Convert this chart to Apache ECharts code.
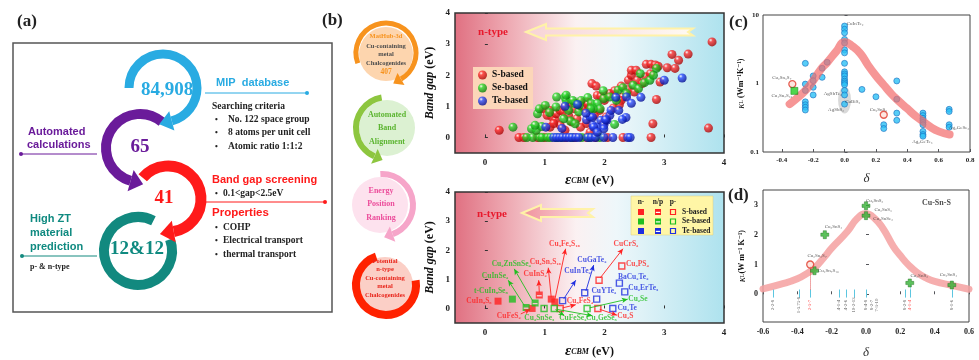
<!DOCTYPE html>
<html><head><meta charset="utf-8">
<script src="https://cdn.jsdelivr.net/npm/echarts@6/dist/echarts.min.js"></script>
<style>html,body{margin:0;padding:0;background:#fff}#c{width:979px;height:360px}</style>
</head><body><div id="c"></div>
<script>
const SERIF = '"Liberation Serif","DejaVu Serif",serif';
const SANS = '"Liberation Sans","DejaVu Sans",sans-serif';

// ---------- (b) top: band gap vs eps_CBM ----------
const topS = [[0.57,0],[0.65,0],[0.88,0],[1.0,0],[1.35,0],[1.5,0],[1.7,0],[1.85,0],[2.05,0],[2.31,0],[2.78,0],
 [0.24,0.23],[0.98,0.92],[1.04,0.71],[1.09,0.87],[1.12,0.66],[1.18,0.55],[1.19,0.76],[1.26,0.87],[1.32,0.82],[1.34,0.98],
 [1.40,0.71],[1.44,1.09],[1.50,0.92],[1.54,0.60],[1.60,1.14],[1.62,1.0],[1.66,0.92],[1.71,1.14],[1.79,1.73],[1.86,1.65],
 [1.88,1.35],[1.94,1.32],[2.04,1.35],[1.09,0.33],[1.26,0.39],[1.34,0.23],[1.60,0.33],[1.76,0.17],[1.99,0.49],
 [2.09,1.41],[2.17,1.5],[2.28,1.65],[2.4,1.84],[2.45,2.0],[2.55,1.84],[2.63,1.73],[2.69,1.95],[2.77,2.05],[2.40,1.54],
 [2.31,1.3],[2.5,1.46],[2.0,1.19],[1.92,0.87],[1.72,1.06],[2.03,0.66],[1.83,0.71],[2.28,1.19],
 [2.45,2.16],[2.53,2.16],[2.7,2.35],[2.78,2.35],[2.85,2.33],[2.9,2.29],[3.05,2.24],[3.18,2.22],[3.13,2.67],[3.24,2.48],
 [3.4,2.68],[3.8,3.07],[2.93,1.78],[2.87,1.22],[2.81,0.44],[3.74,0.3],[1.15,0.45],[1.45,0.5],[1.7,0.45],[2.15,0.95],[2.25,1.05]];
const topSe = [[0.7,0],[0.8,0],[0.92,0],[0.96,0],[1.05,0],[1.1,0],[1.2,0],[1.28,0],[1.45,0],[1.62,0],[1.75,0],[1.92,0],
 [0.47,0.33],[0.78,0.28],[0.86,0.23],[0.95,0.35],[0.88,0.76],[0.91,0.92],[1.01,1.03],[1.08,0.80],[1.19,0.98],[1.20,1.30],
 [1.34,1.30],[1.36,1.19],[1.40,0.87],[1.50,1.09],[1.57,0.82],[1.61,1.19],[1.72,1.28],[1.78,1.09],[1.88,1.09],[1.99,1.25],
 [1.82,0.92],[1.93,0.92],[1.43,0.53],[1.51,0.44],[1.32,0.60],[0.84,0.39],
 [2.23,1.52],[2.31,1.6],[2.48,1.68],[2.57,1.57],[2.67,1.76],[2.76,1.84],[2.82,2.0],[2.09,1.3],[1.98,1.5],[2.2,1.19],
 [2.37,1.41],[1.58,1.03],[1.77,0.92],[2.17,0.42],[1.47,1.19],[1.36,1.36],[2.87,2.22],[2.6,2.05]];
const topTe = [[1.15,0],[1.2,0],[1.25,0],[1.3,0],[1.36,0],[1.41,0],[1.46,0],[1.52,0],[1.57,0],[1.72,0],[1.78,0],[1.85,0],
 [1.99,0],[2.14,0],[2.39,0],[2.43,0],
 [1.02,0.33],[1.34,1.0],[1.55,1.06],[1.70,0.57],[1.76,0.66],[1.81,0.39],[1.88,0.33],[1.94,0.55],[1.99,0.39],[2.04,0.55],
 [2.09,0.71],[2.19,1.29],[2.37,1.30],[2.45,1.10],[2.61,1.29],[2.11,0.87],[2.24,0.87],[2.36,0.64],[2.30,0.58],[1.8,0.65],
 [2.02,0.57],[1.82,0.33],[1.99,0.28],[1.88,0.17],[1.69,0.78],[1.29,0.29],[3.0,1.84],[3.3,1.91]];

// ---------- (b) bottom: selected compounds ----------
const botS_n = [[0.22,0.25],[0.79,0.0],[1.11,0.32],[1.17,0.22]];
const botS_np = [[0.91,0.46]];
const botS_p = [[1.26,0],[1.89,0],[1.91,0.97],[2.29,1.46]];
const botSe_n = [[0.46,0.32]];
const botSe_np = [[0.69,0.03],[0.84,0.19]];
const botSe_p = [[0.99,0],[1.16,0],[1.71,0]];
const botTe_p = [[1.30,0.27],[1.67,0.54],[1.87,0.32],[2.25,0.87],[2.34,0.57],[2.14,0]];
const botNamesS = [[-0.10,0.26,'CuIn₅S₈'],[0.40,-0.26,'CuFeS₂'],[0.84,1.17,'CuInS₂'],[1.01,1.59,'Cu₄Sn₇S₁₆'],[1.33,2.21,'Cu₉Fe₉S₁₆'],
 [1.59,0.26,'Cu₅FeS₄'],[2.36,2.21,'CuCrS₂'],[2.55,1.53,'Cu₃PS₄'],[2.35,-0.26,'Cu₂S']];
const botNamesSe = [[0.10,0.58,'t-CuIn₅Se₈'],[0.17,1.10,'CuInSe₂'],[0.44,1.53,'Cu₂ZnSnSe₄'],[0.91,-0.32,'Cu₂SnSe₃'],
 [1.47,-0.32,'CuFeSe₂'],[1.95,-0.32,'Cu₂GeSe₃'],[2.56,0.32,'Cu₂Se']];
const botNamesTe = [[1.55,1.27,'CuInTe₂'],[1.79,1.66,'CuGaTe₂'],[1.99,0.58,'CuYTe₂'],[2.48,1.07,'BaCu₂Te₂'],[2.65,0.71,'Cu₂ErTe₃'],[2.38,0.03,'Cu₂Te']];
const botArrowsS = [[[0.6,-0.19],[0.76,-0.03]],[[0.91,0.55],[0.90,0.97]],[[1.11,0.38],[1.06,1.40]],[[1.17,0.3],[1.35,2.05]],
 [[1.30,0.02],[1.52,0.13]],[[1.93,1.05],[2.31,2.05]],[[1.92,-0.03],[2.21,-0.23]]];
const botArrowsSe = [[[0.66,0.1],[0.39,0.97]],[[0.80,0.26],[0.49,1.36]],[[1.18,-0.04],[1.33,-0.25]],[[1.2,-0.03],[1.8,-0.25]],[[1.75,0.02],[2.39,0.32]]];
const botArrowsTe = [[[1.32,0.33],[1.52,0.97]],[[1.69,0.6],[1.82,1.49]]];

// ---------- (c) kappa_L vs delta ----------
const cBlue = [[0,6.9],[0,6.2],[0,5.5],[0,4.4],[0,3.9],[0,3.1],[0,2.8],[0,1.97],[0,1.48],[0,1.38],[0,1.29],[0,1.16],[0,1.08],
 [0,1.02],[0,0.96],[0,0.79],[0,0.68],[0,0.50],
 [-0.25,1.97],[-0.25,0.98],[-0.25,0.79],[-0.25,0.54],[-0.25,0.49],[-0.25,0.45],[-0.25,0.41],
 [-0.2,1.29],[-0.2,1.10],[-0.2,0.88],[-0.2,0.68],[-0.143,1.67],[-0.143,1.23],[-0.111,2.04],
 [0.111,0.82],[0.2,0.64],[0.25,0.25],[0.25,0.22],[0.333,1.09],[0.333,0.59],[0.333,0.37],[0.333,0.29],
 [0.5,0.37],[0.5,0.34],[0.5,0.31],[0.5,0.29],[0.5,0.27],[0.5,0.25],[0.5,0.20],[0.5,0.18],[0.5,0.17],
 [0.667,0.42],[0.667,0.39],[0.667,0.25],[0.667,0.23]];
const cRed = [[-0.333,0.98],[0.25,0.35]];
const cGreen = [[-0.32,0.78]];
const cCurve = [[-0.35,0.5],[-0.3,0.62],[-0.25,0.79],[-0.2,1.1],[-0.15,1.62],[-0.11,2.04],[-0.05,3.0],[0,4.05],[0.05,3.5],
 [0.1,2.75],[0.15,1.85],[0.2,1.3],[0.25,0.95],[0.3,0.7],[0.333,0.59],[0.4,0.43],[0.45,0.34],[0.5,0.28],[0.55,0.23],[0.6,0.2],[0.67,0.18]];
const cNames = [[0.067,7.4,'CuInTe₂'],[-0.40,1.23,'Cu₂Sn₃S₇'],[-0.40,0.66,'Cu₄Sn₇S₁₆'],[-0.075,0.72,'AgSbTe₂'],[0.052,0.54,'CuBiS₂'],
 [-0.054,0.42,'AgSbS₂'],[0.216,0.41,'Cu₂SnS₃'],[0.496,0.14,'Ag₂GeTe₃'],[0.73,0.23,'Ag₂GeSe₃']];
const cShade = [[0,0.575]];

// ---------- (d) Cu-Sn-S ----------
const dGreen = [[0,2.97],[0,2.64],[-0.24,2.0],[-0.30,0.79],[0.255,0.38],[0.5,0.31]];
const dRed = [[-0.325,1.0]];
const dCurve = [[-0.6,0.18],[-0.5,0.33],[-0.4,0.52],[-0.33,0.75],[-0.3,0.88],[-0.24,1.27],[-0.2,1.55],[-0.11,2.1],[-0.05,2.55],
 [0,2.7],[0.05,2.55],[0.1,2.2],[0.16,1.6],[0.2,1.3],[0.25,0.97],[0.3,0.72],[0.35,0.55],[0.4,0.43],[0.5,0.3],[0.6,0.17]];
const dNames = [[0.05,3.14,'Cu₂SnS₃'],[0.10,2.84,'Cu₂SnS₃'],[0.10,2.53,'Cu₂SnSe₃'],[-0.19,2.28,'Cu₃SnS₄'],
 [-0.285,1.29,'Cu₂Sn₃S₇'],[-0.22,0.79,'Cu₄Sn₇S₁₆'],[0.31,0.63,'Cu₂SnS₃'],[0.48,0.65,'Cu₄SnS₄']];
const dTickPos = [-0.543,-0.39,-0.325,-0.157,-0.116,-0.07,0,0.226,0.255,0.5];
const dTickNames = [[-0.543,'2-2-8'],[-0.39,'1-3.75-8'],[-0.325,'2-3-7'],[-0.157,'4-1-4'],[-0.116,'4-2-6'],[-0.07,'10-2-13'],
 [0,'8-4-8'],[0.033,'8-2-7'],[0.062,'7-3-10'],[0.226,'8-2-8'],[0.255,'4-1-4'],[0.5,'8-1-6']];
const dTickRedPos = [-0.325,0.255];

// ================= build =================
const chart = echarts.init(document.getElementById('c'), null, {renderer:'canvas'});
const LG = echarts.graphic.LinearGradient, RG = echarts.graphic.RadialGradient;
function ball(c1,c2){return new RG(0.35,0.3,0.75,[{offset:0,color:'#ffffff'},{offset:0.28,color:c1},{offset:1,color:c2}]);}
function bgGrad(){return new LG(0,0,1,0,[{offset:0,color:'#e07081'},{offset:0.2,color:'#eeaab3'},{offset:0.45,color:'#fbf1f2'},{offset:0.6,color:'#eef7fa'},{offset:1,color:'#ade2ee'}]);}
const RED='#ff2222', GRN='#1fbf1f', BLU='#1f2fe0';

const G = [];
function T(x,y,text,o){o=o||{};G.push({type:'text',x:x,y:y,z:o.z||10,silent:true,style:{text:text,fill:o.c||'#222',fontSize:o.s||10,
  fontFamily:o.f||SERIF,fontWeight:o.w||'bold',fontStyle:o.i||'normal',align:o.a||'left',verticalAlign:'middle'}});}
function ring(cx,cy,r,w,a0,a1,cw,color,hl,hw){
  const rad=Math.PI/180;
  G.push({type:'arc',z:6,silent:true,shape:{cx:cx,cy:cy,r:r,startAngle:a0*rad,endAngle:a1*rad,clockwise:cw},style:{stroke:color,lineWidth:w,fill:'none'}});
  if(hl){const t=a1*rad,ex=cx+r*Math.cos(t),ey=cy+r*Math.sin(t),d=cw?1:-1,tx=-Math.sin(t)*d,ty=Math.cos(t)*d,nx=Math.cos(t),ny=Math.sin(t);
    G.push({type:'polygon',z:6,silent:true,shape:{points:[[ex+nx*hw,ey+ny*hw],[ex+tx*hl,ey+ty*hl],[ex-nx*hw,ey-ny*hw]]},style:{fill:color}});}
}
function circ(cx,cy,r,fill,z){G.push({type:'circle',z:z||5,silent:true,shape:{cx:cx,cy:cy,r:r},style:{fill:fill}});}
function line(x1,y1,x2,y2,c,w){G.push({type:'line',z:5,silent:true,shape:{x1:x1,y1:y1,x2:x2,y2:y2},style:{stroke:c,lineWidth:w||1}});}

// panel labels
T(17,22,'(a)',{s:17}); T(322,21,'(b)',{s:17}); T(729,23,'(c)',{s:17}); T(728,196,'(d)',{s:17});
// (a) box
G.push({type:'rect',z:4,silent:true,shape:{x:13,y:43,width:319,height:269},style:{fill:'none',stroke:'#555',lineWidth:1.5}});
// (a) rings
ring(138,251,34,10,-20,297,true,'#12897f');
ring(168,199,33,11,220,440,true,'#ff1a1a',14,11);
ring(140,148,34,10,-50,-254,false,'#6a1b9a',13,11);
ring(163,88,34,9,180,435,true,'#29abe2',13,10);
T(167,90,'84,908',{c:'#29abe2',s:19,a:'center'});
T(140,147,'65',{c:'#6a1b9a',s:19,a:'center'});
T(164,198,'41',{c:'#ff1a1a',s:19,a:'center'});
T(137,249,'12&12',{c:'#0f8a80',s:19,a:'center'});
line(205,93,307,93,'#29abe2'); circ(307,93,2,'#29abe2');
line(21,154,97,154,'#6a1b9a'); circ(21,154,2,'#6a1b9a');
line(205,202,325,202,'#ff1a1a'); circ(325,202,2,'#ff1a1a');
line(22,256,97,256,'#12897f'); circ(22,256,2,'#12897f');
T(216,83,'MIP  database',{c:'#29abe2',s:11,f:SANS});
T(212,107,'Searching criteria',{s:9.5});
[[120,'No. 122 space group'],[133,'8 atoms per unit cell'],[147,'Atomic ratio 1:1:2']].forEach(function(r){T(215,r[0],'•',{s:8});T(228,r[0],r[1],{s:9.5});});
T(28,132,'Automated',{c:'#6a1b9a',s:11,f:SANS}); T(27,145,'calculations',{c:'#6a1b9a',s:11,f:SANS});
T(212,180,'Band gap screening',{c:'#ff1a1a',s:11,f:SANS});
T(215,194,'•',{s:8}); T(223,194,'0.1<gap<2.5eV',{s:9.5});
T(212,213,'Properties',{c:'#ff1a1a',s:11.5,f:SANS});
[[228,'COHP'],[241,'Electrical transport'],[255,'thermal transport']].forEach(function(r){T(215,r[0],'•',{s:8});T(223,r[0],r[1],{s:9.5});});
T(30,219,'High ZT',{c:'#0f8a80',s:11,f:SANS}); T(30,233,'material',{c:'#0f8a80',s:11,f:SANS}); T(30,247,'prediction',{c:'#0f8a80',s:11,f:SANS});
T(30,267,'p- & n-type',{s:8});

// (b) flow circles
circ(386,54,27,'#fdd5ae',4); circ(387,128,28,'#dcf1d2',4); circ(380,205,28,'#fde2ee',4); circ(385,285,28,'#fbcfc6',4);
ring(386,53,30,5,160,420,true,'#f7931e',9,7);
ring(387,128,31,6,-100,-246,false,'#8dc63f',9,8);
ring(382,205,31,6,-93,70,true,'#f6a5c9',9,8);
ring(386,285,30,8,-109,-369,false,'#ff2200');
T(386,36,'MatHub-3d',{c:'#f7931e',s:6.5,a:'center'});
[[46,'Cu-containing'],[54,'metal'],[63,'Chalcogenides']].forEach(function(r){T(386,r[0],r[1],{c:'#4d4d4d',s:6.5,a:'center'});});
T(386,72,'407',{c:'#f7931e',s:7.5,a:'center'});
[[115,'Automated'],[128,'Band'],[142,'Alignment']].forEach(function(r){T(387,r[0],r[1],{c:'#5cb531',s:8,a:'center'});});
[[191,'Energy'],[204,'Position'],[218,'Ranking']].forEach(function(r){T(381,r[0],r[1],{c:'#ec4d9b',s:8,a:'center'});});
[[261,'Potential'],[269,'n-type'],[278,'Cu-containing'],[286,'metal'],[295,'Chalcogenides']].forEach(function(r){T(385,r[0],r[1],{c:'#e8261c',s:6.5,a:'center'});});

// n-type arrows
function bigArrow(tx,ty,hx,hh,bh,ex,fill,z){G.push({type:'polygon',z:z,silent:true,shape:{points:[[tx,ty],[hx,ty-hh],[hx,ty-bh],[ex,ty-bh],[ex-5,ty],[ex,ty+bh],[hx,ty+bh],[hx,ty+hh]]},
  style:{fill:fill,stroke:'#fff2a8',lineWidth:2}});}
bigArrow(526,32,546,8,3.5,693,new LG(0,0,1,0,[{offset:0,color:'#f7d3d6'},{offset:1,color:'#fffaf2'}]),1);
bigArrow(522,213,541,8,4,593,new LG(0,0,1,0,[{offset:0,color:'#f0909b'},{offset:1,color:'#fbe3e6'}]),1);
T(493,32,'n-type',{c:'#e8192c',s:11,a:'center',z:3});
T(492,214,'n-type',{c:'#e8192c',s:11,a:'center',z:3});

// bottom legend
G.push({type:'rect',z:8,silent:true,shape:{x:631,y:196,width:82,height:39},style:{fill:'#fff6a6',stroke:'#d8cf80',lineWidth:0.5}});
T(641,202,'n-',{s:7.5,a:'center',z:9}); T(658,202,'n/p',{s:7.5,a:'center',z:9}); T(673,202,'p-',{s:7.5,a:'center',z:9});
[[212,RED,'S-based'],[221.5,GRN,'Se-based'],[231,BLU,'Te-based']].forEach(function(r){
  G.push({type:'rect',z:9,silent:true,shape:{x:638,y:r[0]-3,width:6,height:6},style:{fill:r[1]}});
  G.push({type:'rect',z:9,silent:true,shape:{x:655,y:r[0]-3,width:6,height:6},style:{fill:r[1]}});
  G.push({type:'rect',z:9,silent:true,shape:{x:655.8,y:r[0]-0.2,width:4.4,height:1.2},style:{fill:'#fff'}});
  G.push({type:'rect',z:9,silent:true,shape:{x:670.5,y:r[0]-2.5,width:5,height:5},style:{fill:'none',stroke:r[1],lineWidth:1.2}});
  T(682,r[0],r[2],{s:7.5,z:9});
});

const HALF = 'path://M0,0H10V10H0Z M1.5,5V7H8.5V5Z';
const PLUS = 'path://M3,0H7V3H10V7H7V10H3V7H0V3H3Z';
const lbl = function(color,size,extra){return Object.assign({show:true,position:'inside',formatter:function(p){return p.value[2];},color:color,fontSize:size,fontFamily:SERIF,fontWeight:'bold'},extra||{});};
function arrowsML(arr,color){return {silent:true,animation:false,symbol:['none','arrow'],symbolSize:[4,6],label:{show:false},
  lineStyle:{color:color,width:0.9,type:'solid'},emphasis:{disabled:true},data:arr.map(function(a){return [{coord:a[0]},{coord:a[1]}];})};}
function sq(name,data,symbol,color,open){return {name:name,type:'scatter',xAxisIndex:1,yAxisIndex:1,data:data,symbol:symbol,symbolSize:open?6:7,z:4,
  itemStyle:open?{color:'rgba(255,255,255,0)',borderColor:color,borderWidth:1.4}:{color:color}};}
function names(data,color,size,xi,extra,ml){const s={type:'scatter',xAxisIndex:xi,yAxisIndex:xi,data:data,symbolSize:1,z:6,itemStyle:{color:'rgba(0,0,0,0)'},label:lbl(color,size,extra),silent:true};
  if(ml) s.markLine=ml; return s;}

const axisLbl = function(sz){return {fontFamily:SERIF,fontWeight:'bold',fontSize:sz,color:'#222'};};
const eps = {name:'{e|ε}{s|CBM}{n| (eV)}',nameLocation:'middle',nameTextStyle:{rich:{e:{fontSize:15,fontFamily:SERIF,fontStyle:'italic',fontWeight:'bold',color:'#111'},
  s:{fontSize:8,fontFamily:SERIF,fontStyle:'italic',fontWeight:'bold',color:'#111'},n:{fontSize:12,fontFamily:SERIF,fontWeight:'bold',color:'#111'}}}};
const bg = {name:'{i|Band gap} {n|(eV)}',nameLocation:'middle',nameRotate:90,nameTextStyle:{rich:{i:{fontSize:12,fontFamily:SERIF,fontStyle:'italic',fontWeight:'bold',color:'#111'},
  n:{fontSize:12,fontFamily:SERIF,fontWeight:'bold',color:'#111'}}}};
function kap(txt){return {name:'{k|κ}{l|L}{n|'+txt+'}',nameLocation:'middle',nameRotate:90,nameTextStyle:{rich:{k:{fontSize:10,fontFamily:SERIF,fontStyle:'italic',color:'#111'},
  l:{fontSize:6,fontFamily:SERIF,color:'#111'},n:{fontSize:8,fontFamily:SERIF,fontWeight:'bold',color:'#111'}}}};}
const bTicks=[0,1,2,3,4];
function bX(i,gap){return Object.assign({gridIndex:i,type:'value',min:-0.5,max:4,nameGap:gap,axisLine:{show:false},splitLine:{show:false},
  axisTick:{inside:true,length:3,customValues:bTicks,lineStyle:{color:'#333'}},axisLabel:Object.assign({customValues:bTicks,margin:5},axisLbl(9))},eps);}
function bY(i){return Object.assign({gridIndex:i,type:'value',min:-0.5,max:4,nameGap:19,axisLine:{show:false},splitLine:{show:false},
  axisTick:{inside:true,length:3,customValues:bTicks,lineStyle:{color:'#333'}},axisLabel:Object.assign({customValues:bTicks,margin:5},axisLbl(9))},bg);}
const cxT=[-0.4,-0.2,0,0.2,0.4,0.6,0.8];
const deltaName = {fontSize:13,fontStyle:'italic',fontFamily:SERIF,color:'#333'};

const tickLabelData = dTickNames.map(function(t){
  return {value:[t[0],-0.36,t[1]],label:{color:dTickRedPos.indexOf(t[0])>=0?'#ff2020':'#333'}};});

const option = {
  animation:false,
  textStyle:{fontFamily:SERIF},
  graphic:G,
  legend:{data:['S-based','Se-based','Te-based'],left:473,top:67,orient:'vertical',itemWidth:9,itemHeight:9,itemGap:3,padding:[3,5,3,5],
    backgroundColor:'#fcd6b9',selectedMode:false,icon:'circle',textStyle:{fontFamily:SERIF,fontWeight:'bold',fontSize:9.5,color:'#111'}},
  grid:[
    {left:455,top:13,width:269,height:140,show:true,backgroundColor:bgGrad(),borderColor:'#333',borderWidth:1.5},
    {left:455,top:192,width:269,height:139,show:true,backgroundColor:bgGrad(),borderColor:'#333',borderWidth:1.5},
    {left:763,top:15,width:207,height:137,show:true,backgroundColor:'#fff',borderColor:'#444',borderWidth:1},
    {left:763,top:190,width:206,height:135,show:true,backgroundColor:'#fff',borderColor:'#444',borderWidth:1}
  ],
  xAxis:[
    bX(0,20), bX(1,21),
    {gridIndex:2,type:'value',min:-0.52,max:0.8,nameGap:20,name:'δ',nameLocation:'middle',nameTextStyle:deltaName,
      axisLine:{show:false},splitLine:{show:false},axisTick:{inside:true,length:3,customValues:cxT},
      axisLabel:Object.assign({customValues:cxT,margin:5,formatter:function(v){return v.toFixed(1);}},axisLbl(7))},
    {gridIndex:3,type:'value',min:-0.6,max:0.6,interval:0.2,nameGap:24,name:'δ',nameLocation:'middle',nameTextStyle:deltaName,
      axisLine:{show:false},splitLine:{show:false},axisTick:{inside:true,length:3},
      axisLabel:Object.assign({margin:6,formatter:function(v){return v.toFixed(1);}},axisLbl(8))}
  ],
  yAxis:[
    bY(0), bY(1),
    Object.assign({gridIndex:2,type:'log',logBase:10,min:0.1,max:10,nameGap:14,axisLine:{show:false},splitLine:{show:false},
      axisTick:{inside:true,length:3},axisLabel:Object.assign({margin:4,formatter:function(v){return String(+v.toPrecision(2));}},axisLbl(7))},kap(' (Wm⁻¹K⁻¹)')),
    Object.assign({gridIndex:3,type:'value',min:-0.93,max:3.5,nameGap:16,axisLine:{show:false},splitLine:{show:false},
      axisTick:{inside:true,length:3,customValues:[0,1,2,3]},axisLabel:Object.assign({customValues:[0,1,2,3],margin:5},axisLbl(8))},kap('(W m⁻¹ K⁻¹)'))
  ],
  series:[
    // (b) top
    {name:'S-based',type:'scatter',xAxisIndex:0,yAxisIndex:0,data:topS,symbolSize:9,itemStyle:{color:ball('#ff3030','#a00000')},z:3},
    {name:'Se-based',type:'scatter',xAxisIndex:0,yAxisIndex:0,data:topSe,symbolSize:9,itemStyle:{color:ball('#2fdc2f','#067506')},z:3},
    {name:'Te-based',type:'scatter',xAxisIndex:0,yAxisIndex:0,data:topTe,symbolSize:9,itemStyle:{color:ball('#3050ff','#00088a')},z:4},
    // (b) bottom
    sq('Sn',botS_n,'rect',RED,false), sq('Snp',botS_np,HALF,RED,false), sq('Sp',botS_p,'rect',RED,true),
    sq('Sen',botSe_n,'rect',GRN,false), sq('Senp',botSe_np,HALF,GRN,false), sq('Sep',botSe_p,'rect',GRN,true),
    sq('Tep',botTe_p,'rect',BLU,true),
    names(botNamesS,RED,7.5,1,null,arrowsML(botArrowsS,RED)),
    names(botNamesSe,GRN,7.5,1,null,arrowsML(botArrowsSe,GRN)),
    names(botNamesTe,BLU,7.5,1,null,arrowsML(botArrowsTe,BLU)),
    // (c)
    {type:'scatter',xAxisIndex:2,yAxisIndex:2,data:cShade,symbol:'circle',symbolSize:[13,27],itemStyle:{color:'rgba(150,150,150,0.45)'},z:1,silent:true},
    {type:'scatter',xAxisIndex:2,yAxisIndex:2,data:cBlue,symbolSize:6,itemStyle:{color:'#2cc0f5',borderColor:'#1c6fc0',borderWidth:0.8},z:3},
    {type:'line',xAxisIndex:2,yAxisIndex:2,data:cCurve,smooth:true,showSymbol:false,lineStyle:{color:'rgba(242,110,110,0.72)',width:8,cap:'round'},z:4,silent:true},
    {type:'scatter',xAxisIndex:2,yAxisIndex:2,data:cRed,symbolSize:7,itemStyle:{color:'#fde0d8',borderColor:'#e03a2a',borderWidth:1.3},z:5},
    {type:'scatter',xAxisIndex:2,yAxisIndex:2,data:cGreen,symbol:'rect',symbolSize:7,itemStyle:{color:'#22cc22',borderColor:'#0a7a0a',borderWidth:0.6},z:5},
    names(cNames,'#333',5,2,{fontWeight:'normal'}),
    // (d)
    {type:'line',xAxisIndex:3,yAxisIndex:3,data:dCurve,smooth:true,showSymbol:false,lineStyle:{color:'rgba(245,160,160,0.85)',width:7,cap:'round'},z:2,silent:true,
      markLine:{silent:true,animation:false,symbol:['none','none'],label:{show:false},lineStyle:{color:'#5cc6e0',width:1,type:'solid'},
        data:dTickPos.map(function(x){return [{coord:[x,0.16]},{coord:[x,-0.11]}];}).concat([
          [{coord:[-0.325,0.16]},{coord:[-0.325,0.93],lineStyle:{type:'dotted',color:'#e05050'}}],
          [{coord:[0.255,0.16]},{coord:[0.255,0.33],lineStyle:{type:'dotted',color:'#5cc6e0'}}]])}},
    {type:'scatter',xAxisIndex:3,yAxisIndex:3,data:dGreen,symbol:PLUS,symbolSize:8,itemStyle:{color:'#33b233',borderColor:'#1a6a1a',borderWidth:0.5},z:5},
    {type:'scatter',xAxisIndex:3,yAxisIndex:3,data:dRed,symbolSize:7,itemStyle:{color:'#fde0d8',borderColor:'#e03a2a',borderWidth:1.3},z:5},
    names(dNames,'#333',5,3,{fontWeight:'normal'}),
    names(tickLabelData,'#333',4.8,3,{fontWeight:'normal',rotate:90}),
    names([[0.41,3.07,'Cu-Sn-S']],'#222',8,3,null)
  ]
};
chart.setOption(option);
</script></body></html>
